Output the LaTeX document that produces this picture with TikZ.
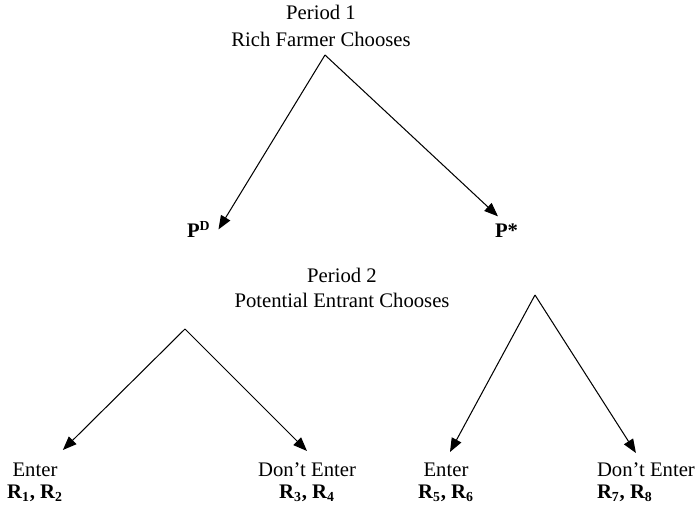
\documentclass[tikz,border=0pt]{standalone}
\usepackage{fontspec}
\setmainfont{Liberation Serif}
\usetikzlibrary{arrows.meta, positioning}

\begin{document}
\begin{tikzpicture}[
    x=0.58pt, y=-0.58pt,
    lbl/.style={inner sep=0pt, outer sep=0pt, align=center, font=\fontsize{12}{14.5}\selectfont},
    pay/.style={lbl, font=\fontsize{12}{14.5}\selectfont\bfseries},
    arrow/.style={-{Triangle[length=8pt, width=6.2pt]}, line width=0.6pt}
]
\useasboundingbox (0,0) rectangle (699,512);

% period 1
\node (per1) [lbl, anchor=north] at (321,5) {Period 1\\[1.5pt]Rich Farmer Chooses};
\coordinate (root) at (325,55);
\node (pd) [pay, anchor=base west] at (187,238) {P\textsuperscript{D}};
\node (ps) [pay, anchor=base west] at (495,238) {P*};

\draw [arrow] (root) -- ([shift={(8,8)}]pd.north east);
\draw [arrow] (root) -- ([shift={(3,-8)}]ps.north west);

% period 2
\node (per2) [lbl, anchor=north] at (342,268) {Period 2\\Potential Entrant Chooses};
\coordinate (nodeA) at (185,329);
\coordinate (nodeB) at (535,295);

\node (enA) [lbl, anchor=north] at (35,463) {Enter\\[-2pt]\textbf{R\textsubscript{1}, R\textsubscript{2}}};
\node (dnA) [lbl, anchor=north] at (307,463) {Don't Enter\\[-2pt]\textbf{R\textsubscript{3}, R\textsubscript{4}}};
\node (enB) [lbl, anchor=north] at (446,463) {Enter\\[-2pt]\textbf{R\textsubscript{5}, R\textsubscript{6}}};
\node (dnB) [lbl, align=left, anchor=north west] at (597,463) {Don't Enter\\[-2pt]\textbf{R\textsubscript{7}, R\textsubscript{8}}};

\draw [arrow] (nodeA) -- ([shift={(0,-13)}]enA.north east);
\draw [arrow] (nodeA) -- ([shift={(0,-12)}]dnA.north);
\draw [arrow] (nodeB) -- ([shift={(4,-11)}]enB.north);
\draw [arrow] (nodeB) -- ([shift={(-10,-10)}]dnB.north);

\end{tikzpicture}
\end{document}
